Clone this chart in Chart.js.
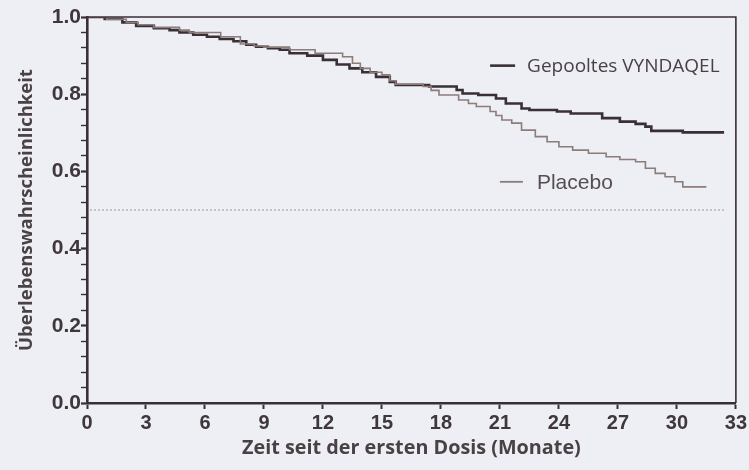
<!DOCTYPE html>
<html>
<head>
<meta charset="utf-8">
<script src="https://cdn.jsdelivr.net/npm/chart.js@4"></script>
<style>
  html, body { margin: 0; padding: 0; background: #edeff4; }
  #wrap { width: 749px; height: 470px; }
</style>
</head>
<body>
<div id="wrap"><canvas id="kmChart"></canvas></div>
<script>
// Kaplan-Meier curves (months, survival probability)
const vynMonths = [0, 0.9, 1.8, 2.5, 3.4, 4.2, 4.7, 5.4, 6.1, 6.75, 7.45, 8.1, 8.6, 9.2, 9.8, 10.3, 11.2, 12.0, 12.7, 13.35, 14.0, 14.7, 15.4, 15.7, 17.4, 18.8, 19.1, 19.9, 20.8, 21.3, 22.1, 22.5, 23.9, 24.6, 26.2, 27.1, 27.9, 28.4, 28.7, 30.3, 32.4];
const vynSurv   = [1.0, 0.995, 0.986, 0.977, 0.971, 0.966, 0.96, 0.954, 0.949, 0.943, 0.937, 0.928, 0.923, 0.919, 0.915, 0.906, 0.9, 0.889, 0.877, 0.867, 0.857, 0.845, 0.832, 0.824, 0.82, 0.811, 0.802, 0.798, 0.789, 0.776, 0.763, 0.759, 0.755, 0.75, 0.738, 0.729, 0.723, 0.716, 0.705, 0.701, 0.701];

const plaMonths = [0, 1.0, 2.0, 2.6, 3.4, 4.7, 5.2, 6.8, 7.8, 8.5, 9.0, 10.3, 11.6, 13.0, 13.5, 13.9, 14.4, 15.0, 15.4, 15.7, 17.1, 17.5, 17.9, 18.9, 19.4, 19.8, 20.5, 20.8, 21.1, 21.6, 22.1, 22.8, 23.4, 24.0, 24.7, 25.5, 26.4, 27.1, 27.9, 28.4, 28.9, 29.4, 29.9, 30.3, 31.5];
const plaSurv   = [1.0, 0.994, 0.986, 0.98, 0.973, 0.966, 0.96, 0.949, 0.93, 0.925, 0.922, 0.915, 0.906, 0.897, 0.88, 0.867, 0.857, 0.85, 0.835, 0.826, 0.82, 0.81, 0.798, 0.785, 0.776, 0.768, 0.755, 0.745, 0.733, 0.725, 0.707, 0.69, 0.677, 0.664, 0.655, 0.647, 0.638, 0.631, 0.625, 0.608, 0.595, 0.586, 0.573, 0.56, 0.56];

// median reference line
const medianMonths = [0.15, 32.4];
const medianSurv = [0.5, 0.5];

const xTicks = [0, 3, 6, 9, 12, 15, 18, 21, 24, 27, 30, 33];
const seriesNames = ["Gepooltes VYNDAQEL", "Placebo"];

const dark = "#3a2f34";
const grey = "#8c7c7a";
const textCol = "#3f373b";

function toPoints(xs, ys) {
    return xs.map((x, i) => ({ x: x, y: ys[i] }));
}

function isMajor(v) {
    let k = v * 5;
    return Math.abs(k - Math.round(k)) < 1e-6;
}

// box frame (top + right) and the two in-plot labels
const framePlugin = {
    id: "frame",
    afterDatasetsDraw(chart) {
        let ctx = chart.ctx;
        let a = chart.chartArea;
        ctx.save();
        ctx.strokeStyle = dark;
        ctx.lineWidth = 1.6;
        ctx.beginPath();
        ctx.moveTo(a.left, a.top);
        ctx.lineTo(a.right, a.top);
        ctx.lineTo(a.right, a.bottom);
        ctx.stroke();

        let xs = chart.scales.x, ys = chart.scales.y;
        // VYNDAQEL label
        let y1 = ys.getPixelForValue(0.874);
        let x1 = xs.getPixelForValue(20.5);
        ctx.lineWidth = 2.6;
        ctx.strokeStyle = dark;
        ctx.beginPath();
        ctx.moveTo(x1, y1);
        ctx.lineTo(x1 + 25, y1);
        ctx.stroke();
        ctx.fillStyle = "#4a4145";
        ctx.font = "19px 'Open Sans'";
        ctx.textBaseline = "middle";
        ctx.fillText(seriesNames[0], x1 + 37, y1 + 1);

        // Placebo label
        let y2 = ys.getPixelForValue(0.573);
        let x2 = xs.getPixelForValue(21.0);
        ctx.lineWidth = 1.8;
        ctx.strokeStyle = grey;
        ctx.beginPath();
        ctx.moveTo(x2, y2);
        ctx.lineTo(x2 + 23, y2);
        ctx.stroke();
        ctx.fillStyle = "#574d51";
        ctx.font = "21px 'Liberation Sans'";
        ctx.fillText(seriesNames[1], x2 + 37, y2 + 1);
        ctx.restore();
    }
};

let ctx = document.getElementById("kmChart").getContext("2d");

new Chart(ctx, {
    type: "line",
    data: {
        datasets: [
            {
                label: "Median",
                data: toPoints(medianMonths, medianSurv),
                borderColor: "#9a9699",
                borderWidth: 1,
                borderDash: [2, 2],
                pointRadius: 0
            },
            {
                label: seriesNames[1],
                data: toPoints(plaMonths, plaSurv),
                borderColor: grey,
                borderWidth: 1.6,
                stepped: true,
                pointRadius: 0
            },
            {
                label: seriesNames[0],
                data: toPoints(vynMonths, vynSurv),
                borderColor: dark,
                borderWidth: 2.6,
                stepped: true,
                pointRadius: 0
            }
        ]
    },
    options: {
        responsive: true,
        maintainAspectRatio: false,
        animation: false,
        layout: { padding: { top: 17, right: 12, left: 0, bottom: 0 } },
        plugins: {
            legend: { display: false },
            tooltip: { enabled: false }
        },
        scales: {
            x: {
                type: "linear",
                min: 0,
                max: 33,
                afterBuildTicks: (scale) => { scale.ticks = xTicks.map(v => ({ value: v })); },
                afterFit: (scale) => { scale.height = 67; },
                ticks: {
                    color: textCol,
                    font: { family: "Liberation Sans", size: 20, weight: "bold" },
                    padding: 2,
                    maxRotation: 0
                },
                grid: { drawOnChartArea: false, tickLength: 6, tickColor: dark, tickWidth: 2 },
                border: { color: dark, width: 2.6 },
                title: {
                    display: true,
                    text: "Zeit seit der ersten Dosis (Monate)",
                    color: "#4a4145",
                    font: { family: "Open Sans", size: 19.8, weight: "bold" },
                    padding: { top: 0, bottom: 10 }
                }
            },
            y: {
                min: 0,
                max: 1,
                afterFit: (scale) => { scale.width = 87; },
                ticks: {
                    stepSize: 0.04,
                    autoSkip: false,
                    color: textCol,
                    font: { family: "Liberation Sans", size: 21, weight: "bold" },
                    padding: 0,
                    callback: function (v) {
                        return isMajor(v) ? v.toFixed(1) : "";
                    }
                },
                grid: {
                    drawOnChartArea: false,
                    tickLength: 6,
                    tickColor: dark,
                    tickWidth: (c) => isMajor(c.tick.value) ? 2.2 : 1.4
                },
                border: { color: dark, width: 2.6 },
                title: {
                    display: true,
                    text: "Überlebenswahrscheinlichkeit",
                    color: "#4a4145",
                    font: { family: "Open Sans", size: 18.5, weight: "bold" },
                    padding: { top: 16, bottom: 0 }
                }
            }
        }
    },
    plugins: [framePlugin]
});
</script>
</body>
</html>
